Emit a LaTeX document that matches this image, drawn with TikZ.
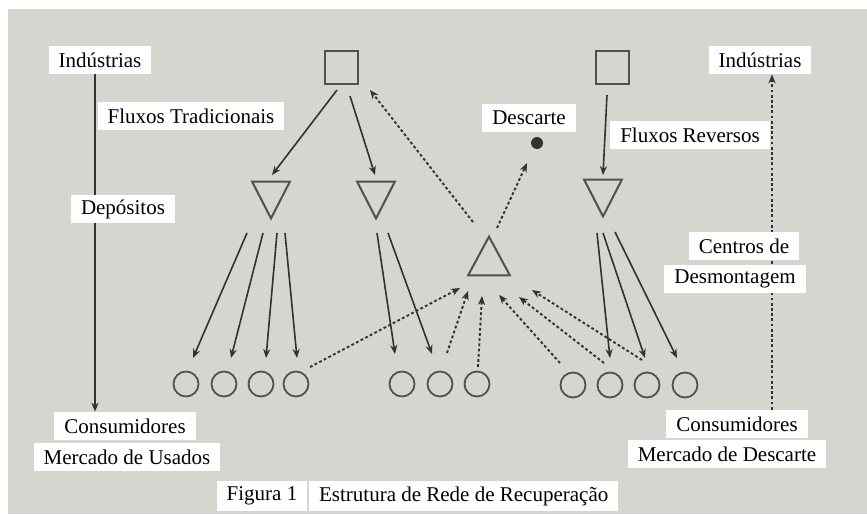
\documentclass[tikz,border=0pt]{standalone}
\usepackage{fontspec}
\setmainfont{Liberation Serif}
\usetikzlibrary{arrows.meta,calc}
\definecolor{paper}{RGB}{213,214,208}
\definecolor{ink}{RGB}{50,50,50}
\definecolor{shapeink}{RGB}{80,80,80}

\begin{document}
\begin{tikzpicture}[x=0.5pt,y=-0.5pt,
  lbl/.style={fill=white, inner xsep=5pt, inner ysep=2pt, minimum height=14pt,
              font=\fontsize{10.5}{12}\selectfont, text=black},
  box/.style={draw=shapeink, line width=1pt, minimum size=16.5pt, inner sep=0pt},
  ring/.style={draw=shapeink, line width=0.9pt, circle, minimum size=12.5pt, inner sep=0pt},
  tri/.style={minimum width=18.5pt, minimum height=18pt, inner sep=0pt},
  triline/.style={draw=shapeink, line width=1pt, line join=miter},
  flow/.style={draw=ink, line width=0.8pt, -{Stealth[length=4.5pt,width=3.6pt]}},
  rflow/.style={flow, line width=0.95pt, dash pattern=on 1.4pt off 1.2pt},
]
% page and paper
\useasboundingbox (0,0) rectangle (867,514);
\fill[white] (0,0) rectangle (867,514);
\fill[paper] (8,9) rectangle (867,514);

% facilities
\node[box] (sq1) at (341,67) {};
\node[box] (sq2) at (612,67) {};
\node[tri] (t1) at (271,200) {};
\node[tri] (t2) at (376,200) {};
\node[tri] (t3) at (603,198) {};
\node[tri, minimum width=20.5pt, minimum height=19pt] (tu) at (489,256) {};
\draw[triline] (t1.north west) -- (t1.north east) -- (t1.south) -- cycle;
\draw[triline] (t2.north west) -- (t2.north east) -- (t2.south) -- cycle;
\draw[triline] (t3.north west) -- (t3.north east) -- (t3.south) -- cycle;
\draw[triline] (tu.south west) -- (tu.south east) -- (tu.north) -- cycle;
\node[circle, fill=ink, minimum size=6pt, inner sep=0pt] (dot) at (537,143) {};

% consumers
\node[ring] (l1) at (186,384) {};
\node[ring] (l2) at (224,384) {};
\node[ring] (l3) at (261,384) {};
\node[ring] (l4) at (296,384) {};
\node[ring] (m1) at (402,384) {};
\node[ring] (m2) at (440,384) {};
\node[ring] (m3) at (477,384) {};
\node[ring] (r1) at (573,385) {};
\node[ring] (r2) at (610,385) {};
\node[ring] (r3) at (647,385) {};
\node[ring] (r4) at (685,385) {};

% forward flows
\draw[flow] ([shift={(-4,23)}]sq1.center) -- ([shift={(1,-25)}]t1.center);
\draw[flow] ([shift={(9,29)}]sq1.center) -- ([shift={(-1,-25)}]t2.center);
\draw[flow] ([shift={(-5,28)}]sq2.center) -- ([shift={(0,-23)}]t3.center);
\draw[flow] ([shift={(-24,33)}]t1.center) -- ([shift={(7,-26)}]l1.center);
\draw[flow] ([shift={(-8,33)}]t1.center) -- ([shift={(7,-26)}]l2.center);
\draw[flow] ([shift={(6,33)}]t1.center) -- ([shift={(5,-26)}]l3.center);
\draw[flow] ([shift={(14,33)}]t1.center) -- ([shift={(1,-26)}]l4.center);
\draw[flow] ([shift={(1,33)}]t2.center) -- ([shift={(-7,-30)}]m1.center);
\draw[flow] ([shift={(12,33)}]t2.center) -- ([shift={(-8,-30)}]m2.center);
\draw[flow] ([shift={(-6,35)}]t3.center) -- ([shift={(0,-27)}]r2.center);
\draw[flow] ([shift={(0,35)}]t3.center) -- ([shift={(-2,-27)}]r3.center);
\draw[flow] ([shift={(12,34)}]t3.center) -- ([shift={(-8,-27)}]r4.center);

% reverse flows
\draw[rflow] ([shift={(-16,-34)}]tu.center) -- ([shift={(29,23)}]sq1.center);
\draw[rflow] ([shift={(8,-28)}]tu.center) -- ([shift={(-10,20)}]dot.center);
\draw[rflow] ([shift={(14,-17)}]l4.center) -- ([shift={(-29,32)}]tu.center);
\draw[rflow] ([shift={(7,-31)}]m2.center) -- ([shift={(-21,35)}]tu.center);
\draw[rflow] ([shift={(1,-17)}]m3.center) -- ([shift={(-7,40)}]tu.center);
\draw[rflow] ([shift={(-13,-22)}]r1.center) -- ([shift={(10,39)}]tu.center);
\draw[rflow] ([shift={(-6,-22)}]r2.center) -- ([shift={(30,41)}]tu.center);
\draw[rflow] ([shift={(-5,-25)}]r3.center) -- ([shift={(43,34)}]tu.center);

% left legend
\node[lbl] (indL) at (100,60) {Indústrias};
\node[lbl] (consL) at (125,426) {Consumidores};
\draw[flow] ([shift={(-5,0)}]indL.south) -- ([shift={(-30,0)}]consL.north);
\node[lbl] (depL) at (123,209) {Depósitos};
\node[lbl] (ftrad) at (191,116) {Fluxos Tradicionais};
\node[lbl] (musad) at (127,457) {Mercado de Usados};

% right legend
\node[lbl] (indR) at (760,60) {Indústrias};
\node[lbl] (consR) at (737,424) {Consumidores};
\draw[rflow] ([shift={(35,0)}]consR.north) -- ([shift={(12,0)}]indR.south);
\node[lbl] (centros) at (744,246) {Centros de};
\node[lbl] (desmont) at (735,279) {Desmontagem};
\node[lbl] (frev) at (690,135) {Fluxos Reversos};
\node[lbl] (mdesc) at (727,454) {Mercado de Descarte};
\node[lbl] (desc) at (529,118) {Descarte};

% caption
\node[lbl, minimum height=15pt] (fig) at (262,496) {Figura 1};
\node[lbl, minimum height=15pt, anchor=west] (cap) at ([xshift=0.5pt]fig.east) {Estrutura de Rede de Recuperação};
\end{tikzpicture}
\end{document}
